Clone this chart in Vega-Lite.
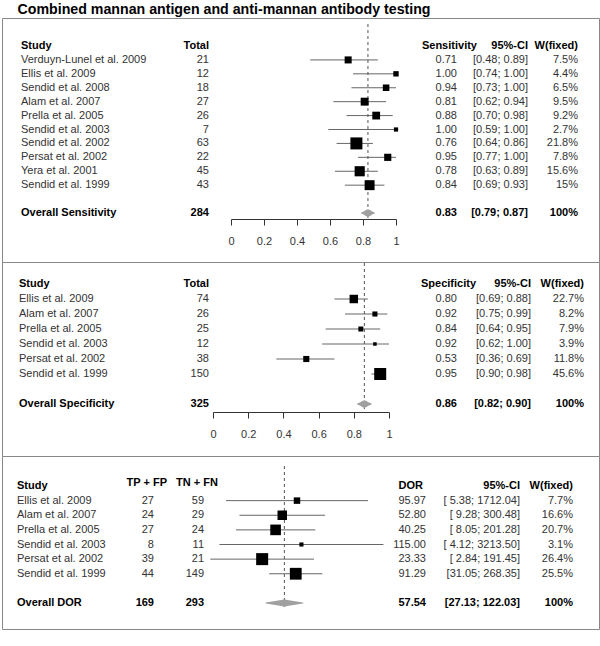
{
  "$schema": "https://vega.github.io/schema/vega-lite/v6.json",
  "padding": {"left": 1, "top": 3, "right": 0, "bottom": 0},
  "title": {"text": "Combined mannan antigen and anti-mannan antibody testing", "anchor": "start", "frame": "bounds", "dx": 16, "font": "Liberation Sans", "fontSize": 14.2, "fontWeight": "bold", "color": "#000", "offset": 0},
  "spacing": 0,
  "bounds": "flush",
  "resolve": {"scale": {"size": "independent"}},
  "datasets": {
    "sens": [
      {"study": "Verduyn-Lunel et al. 2009", "total": 21, "est": 0.71, "lo": 0.48, "hi": 0.89, "ci": "[0.48; 0.89]", "w": 0.075},
      {"study": "Ellis et al. 2009", "total": 12, "est": 1.00, "lo": 0.74, "hi": 1.00, "ci": "[0.74; 1.00]", "w": 0.044},
      {"study": "Sendid et al. 2008", "total": 18, "est": 0.94, "lo": 0.73, "hi": 1.00, "ci": "[0.73; 1.00]", "w": 0.065},
      {"study": "Alam et al. 2007", "total": 27, "est": 0.81, "lo": 0.62, "hi": 0.94, "ci": "[0.62; 0.94]", "w": 0.095},
      {"study": "Prella et al. 2005", "total": 26, "est": 0.88, "lo": 0.70, "hi": 0.98, "ci": "[0.70; 0.98]", "w": 0.092},
      {"study": "Sendid et al. 2003", "total": 7, "est": 1.00, "lo": 0.59, "hi": 1.00, "ci": "[0.59; 1.00]", "w": 0.027},
      {"study": "Sendid et al. 2002", "total": 63, "est": 0.76, "lo": 0.64, "hi": 0.86, "ci": "[0.64; 0.86]", "w": 0.218},
      {"study": "Persat et al. 2002", "total": 22, "est": 0.95, "lo": 0.77, "hi": 1.00, "ci": "[0.77; 1.00]", "w": 0.078},
      {"study": "Yera et al. 2001", "total": 45, "est": 0.78, "lo": 0.63, "hi": 0.89, "ci": "[0.63; 0.89]", "w": 0.156},
      {"study": "Sendid et al. 1999", "total": 43, "est": 0.84, "lo": 0.69, "hi": 0.93, "ci": "[0.69; 0.93]", "w": 0.15}
    ],
    "sensAll": [
      {"study": "Overall Sensitivity", "total": 284, "est": 0.83, "lo": 0.79, "hi": 0.87, "ci": "[0.79; 0.87]", "w": 1.0}
    ],
    "spec": [
      {"study": "Ellis et al. 2009", "total": 74, "est": 0.80, "lo": 0.69, "hi": 0.88, "ci": "[0.69; 0.88]", "w": 0.227},
      {"study": "Alam et al. 2007", "total": 26, "est": 0.92, "lo": 0.75, "hi": 0.99, "ci": "[0.75; 0.99]", "w": 0.082},
      {"study": "Prella et al. 2005", "total": 25, "est": 0.84, "lo": 0.64, "hi": 0.95, "ci": "[0.64; 0.95]", "w": 0.079},
      {"study": "Sendid et al. 2003", "total": 12, "est": 0.92, "lo": 0.62, "hi": 1.00, "ci": "[0.62; 1.00]", "w": 0.039},
      {"study": "Persat et al. 2002", "total": 38, "est": 0.53, "lo": 0.36, "hi": 0.69, "ci": "[0.36; 0.69]", "w": 0.118},
      {"study": "Sendid et al. 1999", "total": 150, "est": 0.95, "lo": 0.90, "hi": 0.98, "ci": "[0.90; 0.98]", "w": 0.456}
    ],
    "specAll": [
      {"study": "Overall Specificity", "total": 325, "est": 0.86, "lo": 0.82, "hi": 0.90, "ci": "[0.82; 0.90]", "w": 1.0}
    ],
    "dor": [
      {"study": "Ellis et al. 2009", "tpfp": 27, "tnfn": 59, "est": 95.97, "lo": 5.38, "hi": 1712.04, "ci": "[ 5.38; 1712.04]", "w": 0.077},
      {"study": "Alam et al. 2007", "tpfp": 24, "tnfn": 29, "est": 52.80, "lo": 9.28, "hi": 300.48, "ci": "[ 9.28;  300.48]", "w": 0.166},
      {"study": "Prella et al. 2005", "tpfp": 27, "tnfn": 24, "est": 40.25, "lo": 8.05, "hi": 201.28, "ci": "[ 8.05;  201.28]", "w": 0.207},
      {"study": "Sendid et al. 2003", "tpfp": 8, "tnfn": 11, "est": 115.00, "lo": 4.12, "hi": 3213.50, "ci": "[ 4.12; 3213.50]", "w": 0.031},
      {"study": "Persat et al. 2002", "tpfp": 39, "tnfn": 21, "est": 23.33, "lo": 2.84, "hi": 191.45, "ci": "[ 2.84;  191.45]", "w": 0.264},
      {"study": "Sendid et al. 1999", "tpfp": 44, "tnfn": 149, "est": 91.29, "lo": 31.05, "hi": 268.35, "ci": "[31.05;  268.35]", "w": 0.255}
    ],
    "dorAll": [
      {"study": "Overall DOR", "tpfp": 169, "tnfn": 293, "est": 57.54, "lo": 27.13, "hi": 122.03, "ci": "[27.13;  122.03]", "w": 1.0}
    ]
  },
  "vconcat": [
    {
      "width": 597, "height": 244,
      "resolve": {"scale": {"x": "independent", "size": "independent"}},
      "layer": [
        {
          "resolve": {"scale": {"size": "independent"}},
          "layer": [
            {"data": {"name": "sens"}, "mark": {"type": "rule", "color": "#666"},
             "encoding": {
               "x": {"field": "lo", "type": "quantitative", "scale": {"domain": [0, 1], "range": [229, 394], "nice": false, "zero": false},
                     "axis": {"orient": "bottom", "values": [0, 0.2, 0.4, 0.6, 0.8, 1], "format": "~g", "title": null, "grid": false, "offset": -43, "zindex": 1, "tickSize": 6, "labelPadding": 10, "labelFlush": false, "labelOverlap": false, "domainColor": "#333", "tickColor": "#333", "labelColor": "#333", "labelFont": "Liberation Sans", "labelFontSize": 11}},
               "x2": {"field": "hi"},
               "y": {"field": "study", "type": "nominal", "scale": {"type": "point", "domain": ["Study", "Verduyn-Lunel et al. 2009", "Ellis et al. 2009", "Sendid et al. 2008", "Alam et al. 2007", "Prella et al. 2005", "Sendid et al. 2003", "Sendid et al. 2002", "Persat et al. 2002", "Yera et al. 2001", "Sendid et al. 1999", "gap", "Overall Sensitivity"], "range": [28, 195], "padding": 0}, "axis": null}
             }},
            {"data": {"name": "sensAll"}, "mark": {"type": "rule", "color": "#555", "strokeDash": [3, 3], "yOffset": -22, "y2Offset": 5},
             "encoding": {"x": {"field": "est", "type": "quantitative"}, "y": {"datum": "Study", "type": "nominal", "axis": null}, "y2": {"datum": "Overall Sensitivity"}}},
            {"data": {"name": "sens"}, "mark": {"type": "square", "filled": true, "color": "#000", "opacity": 1},
             "encoding": {"x": {"field": "est", "type": "quantitative"}, "y": {"field": "study", "type": "nominal", "axis": null},
               "size": {"field": "w", "type": "quantitative", "scale": {"range": [0, 144], "zero": true, "nice": false}, "legend": null}}},
            {"data": {"name": "sensAll"}, "transform": [{"fold": ["lo", "est"], "as": ["k", "v"]}], "mark": {"type": "trail", "color": "#a0a0a0", "fill": "#a0a0a0"},
             "encoding": {"x": {"field": "v", "type": "quantitative"}, "y": {"field": "study", "type": "nominal", "axis": null},
               "size": {"field": "k", "type": "ordinal", "scale": {"type": "point", "domain": ["lo", "est"], "range": [0, 7], "padding": 0}, "legend": null}}},
            {"data": {"name": "sensAll"}, "transform": [{"fold": ["est", "hi"], "as": ["k", "v"]}], "mark": {"type": "trail", "color": "#a0a0a0", "fill": "#a0a0a0"},
             "encoding": {"x": {"field": "v", "type": "quantitative"}, "y": {"field": "study", "type": "nominal", "axis": null},
               "size": {"field": "k", "type": "ordinal", "scale": {"type": "point", "domain": ["hi", "est"], "range": [0, 7], "padding": 0}, "legend": null}}}
          ]
        },
        {
          "layer": [
            {"data": {"name": "sens"}, "mark": {"type": "text", "align": "left"},
             "encoding": {"x": {"datum": 3.18, "type": "quantitative", "scale": {"domain": [0, 100], "nice": false, "zero": false}, "axis": null}, "y": {"field": "study", "type": "nominal", "axis": null}, "text": {"field": "study"}}},
            {"data": {"name": "sens"}, "mark": {"type": "text", "align": "right"},
             "encoding": {"x": {"datum": 34.67, "type": "quantitative", "axis": null}, "y": {"field": "study", "type": "nominal", "axis": null}, "text": {"field": "total", "type": "quantitative", "format": "d"}}},
            {"data": {"name": "sens"}, "mark": {"type": "text", "align": "right"},
             "encoding": {"x": {"datum": 76.21, "type": "quantitative", "axis": null}, "y": {"field": "study", "type": "nominal", "axis": null}, "text": {"field": "est", "type": "quantitative", "format": ".2f"}}},
            {"data": {"name": "sens"}, "mark": {"type": "text", "align": "right"},
             "encoding": {"x": {"datum": 88.11, "type": "quantitative", "axis": null}, "y": {"field": "study", "type": "nominal", "axis": null}, "text": {"field": "ci"}}},
            {"data": {"name": "sens"}, "mark": {"type": "text", "align": "right"},
             "encoding": {"x": {"datum": 96.48, "type": "quantitative", "axis": null}, "y": {"field": "study", "type": "nominal", "axis": null}, "text": {"field": "w", "type": "quantitative", "format": ".1~%"}}},
            {"data": {"name": "sensAll"}, "mark": {"type": "text", "align": "left", "fontWeight": "bold", "color": "#000"},
             "encoding": {"x": {"datum": 3.18, "type": "quantitative", "axis": null}, "y": {"field": "study", "type": "nominal", "axis": null}, "text": {"field": "study"}}},
            {"data": {"name": "sensAll"}, "mark": {"type": "text", "align": "right", "fontWeight": "bold", "color": "#000"},
             "encoding": {"x": {"datum": 34.67, "type": "quantitative", "axis": null}, "y": {"field": "study", "type": "nominal", "axis": null}, "text": {"field": "total", "type": "quantitative", "format": "d"}}},
            {"data": {"name": "sensAll"}, "mark": {"type": "text", "align": "right", "fontWeight": "bold", "color": "#000"},
             "encoding": {"x": {"datum": 76.21, "type": "quantitative", "axis": null}, "y": {"field": "study", "type": "nominal", "axis": null}, "text": {"field": "est", "type": "quantitative", "format": ".2f"}}},
            {"data": {"name": "sensAll"}, "mark": {"type": "text", "align": "right", "fontWeight": "bold", "color": "#000"},
             "encoding": {"x": {"datum": 88.11, "type": "quantitative", "axis": null}, "y": {"field": "study", "type": "nominal", "axis": null}, "text": {"field": "ci"}}},
            {"data": {"name": "sensAll"}, "mark": {"type": "text", "align": "right", "fontWeight": "bold", "color": "#000"},
             "encoding": {"x": {"datum": 96.48, "type": "quantitative", "axis": null}, "y": {"field": "study", "type": "nominal", "axis": null}, "text": {"field": "w", "type": "quantitative", "format": ".1~%"}}},
            {"data": {"values": [{}]}, "mark": {"type": "text", "align": "left", "fontWeight": "bold", "color": "#000", "text": "Study"},
             "encoding": {"x": {"datum": 3.18, "type": "quantitative", "axis": null}, "y": {"datum": "Study", "type": "nominal", "axis": null}}},
            {"data": {"values": [{}]}, "mark": {"type": "text", "align": "right", "fontWeight": "bold", "color": "#000", "text": "Total"},
             "encoding": {"x": {"datum": 34.67, "type": "quantitative", "axis": null}, "y": {"datum": "Study", "type": "nominal", "axis": null}}},
            {"data": {"values": [{}]}, "mark": {"type": "text", "align": "right", "fontWeight": "bold", "color": "#000", "text": "Sensitivity"},
             "encoding": {"x": {"datum": 79.56, "type": "quantitative", "axis": null}, "y": {"datum": "Study", "type": "nominal", "axis": null}}},
            {"data": {"values": [{}]}, "mark": {"type": "text", "align": "right", "fontWeight": "bold", "color": "#000", "text": "95%-CI"},
             "encoding": {"x": {"datum": 88.11, "type": "quantitative", "axis": null}, "y": {"datum": "Study", "type": "nominal", "axis": null}}},
            {"data": {"values": [{}]}, "mark": {"type": "text", "align": "right", "fontWeight": "bold", "color": "#000", "text": "W(fixed)"},
             "encoding": {"x": {"datum": 96.48, "type": "quantitative", "axis": null}, "y": {"datum": "Study", "type": "nominal", "axis": null}}}
          ]
        }
      ]
    },
    {
      "width": 597, "height": 194,
      "resolve": {"scale": {"x": "independent", "size": "independent"}},
      "layer": [
        {
          "resolve": {"scale": {"size": "independent"}},
          "layer": [
            {"data": {"name": "spec"}, "mark": {"type": "rule", "color": "#666"},
             "encoding": {
               "x": {"field": "lo", "type": "quantitative", "scale": {"domain": [0, 1], "range": [211, 387], "nice": false, "zero": false},
                     "axis": {"orient": "bottom", "values": [0, 0.2, 0.4, 0.6, 0.8, 1], "format": "~g", "title": null, "grid": false, "offset": -44, "zindex": 1, "tickSize": 6, "labelPadding": 10, "labelFlush": false, "labelOverlap": false, "domainColor": "#333", "tickColor": "#333", "labelColor": "#333", "labelFont": "Liberation Sans", "labelFontSize": 11}},
               "x2": {"field": "hi"},
               "y": {"field": "study", "type": "nominal", "scale": {"type": "point", "domain": ["Study", "Ellis et al. 2009", "Alam et al. 2007", "Prella et al. 2005", "Sendid et al. 2003", "Persat et al. 2002", "Sendid et al. 1999", "gap", "Overall Specificity"], "range": [22, 142], "padding": 0}, "axis": null}
             }},
            {"data": {"name": "specAll"}, "mark": {"type": "rule", "color": "#555", "strokeDash": [3, 3], "yOffset": -21, "y2Offset": 5},
             "encoding": {"x": {"field": "est", "type": "quantitative"}, "y": {"datum": "Study", "type": "nominal", "axis": null}, "y2": {"datum": "Overall Specificity"}}},
            {"data": {"name": "spec"}, "mark": {"type": "square", "filled": true, "color": "#000", "opacity": 1},
             "encoding": {"x": {"field": "est", "type": "quantitative"}, "y": {"field": "study", "type": "nominal", "axis": null},
               "size": {"field": "w", "type": "quantitative", "scale": {"range": [0, 144], "zero": true, "nice": false}, "legend": null}}},
            {"data": {"name": "specAll"}, "transform": [{"fold": ["lo", "est"], "as": ["k", "v"]}], "mark": {"type": "trail", "color": "#a0a0a0", "fill": "#a0a0a0"},
             "encoding": {"x": {"field": "v", "type": "quantitative"}, "y": {"field": "study", "type": "nominal", "axis": null},
               "size": {"field": "k", "type": "ordinal", "scale": {"type": "point", "domain": ["lo", "est"], "range": [0, 7], "padding": 0}, "legend": null}}},
            {"data": {"name": "specAll"}, "transform": [{"fold": ["est", "hi"], "as": ["k", "v"]}], "mark": {"type": "trail", "color": "#a0a0a0", "fill": "#a0a0a0"},
             "encoding": {"x": {"field": "v", "type": "quantitative"}, "y": {"field": "study", "type": "nominal", "axis": null},
               "size": {"field": "k", "type": "ordinal", "scale": {"type": "point", "domain": ["hi", "est"], "range": [0, 7], "padding": 0}, "legend": null}}}
          ]
        },
        {
          "layer": [
            {"data": {"name": "spec"}, "mark": {"type": "text", "align": "left"},
             "encoding": {"x": {"datum": 2.85, "type": "quantitative", "scale": {"domain": [0, 100], "nice": false, "zero": false}, "axis": null}, "y": {"field": "study", "type": "nominal", "axis": null}, "text": {"field": "study"}}},
            {"data": {"name": "spec"}, "mark": {"type": "text", "align": "right"},
             "encoding": {"x": {"datum": 34.67, "type": "quantitative", "axis": null}, "y": {"field": "study", "type": "nominal", "axis": null}, "text": {"field": "total", "type": "quantitative", "format": "d"}}},
            {"data": {"name": "spec"}, "mark": {"type": "text", "align": "right"},
             "encoding": {"x": {"datum": 76.21, "type": "quantitative", "axis": null}, "y": {"field": "study", "type": "nominal", "axis": null}, "text": {"field": "est", "type": "quantitative", "format": ".2f"}}},
            {"data": {"name": "spec"}, "mark": {"type": "text", "align": "right"},
             "encoding": {"x": {"datum": 88.61, "type": "quantitative", "axis": null}, "y": {"field": "study", "type": "nominal", "axis": null}, "text": {"field": "ci"}}},
            {"data": {"name": "spec"}, "mark": {"type": "text", "align": "right"},
             "encoding": {"x": {"datum": 97.49, "type": "quantitative", "axis": null}, "y": {"field": "study", "type": "nominal", "axis": null}, "text": {"field": "w", "type": "quantitative", "format": ".1~%"}}},
            {"data": {"name": "specAll"}, "mark": {"type": "text", "align": "left", "fontWeight": "bold", "color": "#000"},
             "encoding": {"x": {"datum": 2.85, "type": "quantitative", "axis": null}, "y": {"field": "study", "type": "nominal", "axis": null}, "text": {"field": "study"}}},
            {"data": {"name": "specAll"}, "mark": {"type": "text", "align": "right", "fontWeight": "bold", "color": "#000"},
             "encoding": {"x": {"datum": 34.67, "type": "quantitative", "axis": null}, "y": {"field": "study", "type": "nominal", "axis": null}, "text": {"field": "total", "type": "quantitative", "format": "d"}}},
            {"data": {"name": "specAll"}, "mark": {"type": "text", "align": "right", "fontWeight": "bold", "color": "#000"},
             "encoding": {"x": {"datum": 76.21, "type": "quantitative", "axis": null}, "y": {"field": "study", "type": "nominal", "axis": null}, "text": {"field": "est", "type": "quantitative", "format": ".2f"}}},
            {"data": {"name": "specAll"}, "mark": {"type": "text", "align": "right", "fontWeight": "bold", "color": "#000"},
             "encoding": {"x": {"datum": 88.61, "type": "quantitative", "axis": null}, "y": {"field": "study", "type": "nominal", "axis": null}, "text": {"field": "ci"}}},
            {"data": {"name": "specAll"}, "mark": {"type": "text", "align": "right", "fontWeight": "bold", "color": "#000"},
             "encoding": {"x": {"datum": 97.49, "type": "quantitative", "axis": null}, "y": {"field": "study", "type": "nominal", "axis": null}, "text": {"field": "w", "type": "quantitative", "format": ".1~%"}}},
            {"data": {"values": [{}]}, "mark": {"type": "text", "align": "left", "fontWeight": "bold", "color": "#000", "text": "Study"},
             "encoding": {"x": {"datum": 2.85, "type": "quantitative", "axis": null}, "y": {"datum": "Study", "type": "nominal", "axis": null}}},
            {"data": {"values": [{}]}, "mark": {"type": "text", "align": "right", "fontWeight": "bold", "color": "#000", "text": "Total"},
             "encoding": {"x": {"datum": 34.67, "type": "quantitative", "axis": null}, "y": {"datum": "Study", "type": "nominal", "axis": null}}},
            {"data": {"values": [{}]}, "mark": {"type": "text", "align": "right", "fontWeight": "bold", "color": "#000", "text": "Specificity"},
             "encoding": {"x": {"datum": 79.4, "type": "quantitative", "axis": null}, "y": {"datum": "Study", "type": "nominal", "axis": null}}},
            {"data": {"values": [{}]}, "mark": {"type": "text", "align": "right", "fontWeight": "bold", "color": "#000", "text": "95%-CI"},
             "encoding": {"x": {"datum": 88.61, "type": "quantitative", "axis": null}, "y": {"datum": "Study", "type": "nominal", "axis": null}}},
            {"data": {"values": [{}]}, "mark": {"type": "text", "align": "right", "fontWeight": "bold", "color": "#000", "text": "W(fixed)"},
             "encoding": {"x": {"datum": 97.49, "type": "quantitative", "axis": null}, "y": {"datum": "Study", "type": "nominal", "axis": null}}}
          ]
        }
      ]
    },
    {
      "width": 597, "height": 173,
      "resolve": {"scale": {"x": "independent", "size": "independent"}},
      "layer": [
        {
          "resolve": {"scale": {"size": "independent"}},
          "layer": [
            {"data": {"name": "dor"}, "mark": {"type": "rule", "color": "#666"},
             "encoding": {
               "x": {"field": "lo", "type": "quantitative", "scale": {"type": "log", "domain": [1, 10000], "range": [182.6, 409.4], "nice": false}, "axis": null},
               "x2": {"field": "hi"},
               "y": {"field": "study", "type": "nominal", "scale": {"type": "point", "domain": ["Study", "Ellis et al. 2009", "Alam et al. 2007", "Prella et al. 2005", "Sendid et al. 2003", "Persat et al. 2002", "Sendid et al. 1999", "gap", "Overall DOR"], "range": [30, 147], "padding": 0}, "axis": null}
             }},
            {"data": {"name": "dorAll"}, "mark": {"type": "rule", "color": "#555", "strokeDash": [3, 3], "yOffset": -20, "y2Offset": 5},
             "encoding": {"x": {"field": "est", "type": "quantitative", "axis": null}, "y": {"datum": "Study", "type": "nominal", "axis": null}, "y2": {"datum": "Overall DOR"}}},
            {"data": {"name": "dor"}, "mark": {"type": "square", "filled": true, "color": "#000", "opacity": 1},
             "encoding": {"x": {"field": "est", "type": "quantitative", "axis": null}, "y": {"field": "study", "type": "nominal", "axis": null},
               "size": {"field": "w", "type": "quantitative", "scale": {"range": [0, 144], "zero": true, "nice": false}, "legend": null}}},
            {"data": {"name": "dorAll"}, "transform": [{"fold": ["lo", "est"], "as": ["k", "v"]}], "mark": {"type": "trail", "color": "#a0a0a0", "fill": "#a0a0a0"},
             "encoding": {"x": {"field": "v", "type": "quantitative", "axis": null}, "y": {"field": "study", "type": "nominal", "axis": null},
               "size": {"field": "k", "type": "ordinal", "scale": {"type": "point", "domain": ["lo", "est"], "range": [0, 7], "padding": 0}, "legend": null}}},
            {"data": {"name": "dorAll"}, "transform": [{"fold": ["est", "hi"], "as": ["k", "v"]}], "mark": {"type": "trail", "color": "#a0a0a0", "fill": "#a0a0a0"},
             "encoding": {"x": {"field": "v", "type": "quantitative", "axis": null}, "y": {"field": "study", "type": "nominal", "axis": null},
               "size": {"field": "k", "type": "ordinal", "scale": {"type": "point", "domain": ["hi", "est"], "range": [0, 7], "padding": 0}, "legend": null}}}
          ]
        },
        {
          "layer": [
            {"data": {"name": "dor"}, "mark": {"type": "text", "align": "left"},
             "encoding": {"x": {"datum": 2.51, "type": "quantitative", "scale": {"domain": [0, 100], "nice": false, "zero": false}, "axis": null}, "y": {"field": "study", "type": "nominal", "axis": null}, "text": {"field": "study"}}},
            {"data": {"name": "dor"}, "mark": {"type": "text", "align": "right"},
             "encoding": {"x": {"datum": 25.46, "type": "quantitative", "axis": null}, "y": {"field": "study", "type": "nominal", "axis": null}, "text": {"field": "tpfp", "type": "quantitative", "format": "d"}}},
            {"data": {"name": "dor"}, "mark": {"type": "text", "align": "right"},
             "encoding": {"x": {"datum": 33.84, "type": "quantitative", "axis": null}, "y": {"field": "study", "type": "nominal", "axis": null}, "text": {"field": "tnfn", "type": "quantitative", "format": "d"}}},
            {"data": {"name": "dor"}, "mark": {"type": "text", "align": "right"},
             "encoding": {"x": {"datum": 71.02, "type": "quantitative", "axis": null}, "y": {"field": "study", "type": "nominal", "axis": null}, "text": {"field": "est", "type": "quantitative", "format": ".2f"}}},
            {"data": {"name": "dor"}, "mark": {"type": "text", "align": "right"},
             "encoding": {"x": {"datum": 86.77, "type": "quantitative", "axis": null}, "y": {"field": "study", "type": "nominal", "axis": null}, "text": {"field": "ci"}}},
            {"data": {"name": "dor"}, "mark": {"type": "text", "align": "right"},
             "encoding": {"x": {"datum": 95.64, "type": "quantitative", "axis": null}, "y": {"field": "study", "type": "nominal", "axis": null}, "text": {"field": "w", "type": "quantitative", "format": ".1~%"}}},
            {"data": {"name": "dorAll"}, "mark": {"type": "text", "align": "left", "fontWeight": "bold", "color": "#000"},
             "encoding": {"x": {"datum": 2.51, "type": "quantitative", "axis": null}, "y": {"field": "study", "type": "nominal", "axis": null}, "text": {"field": "study"}}},
            {"data": {"name": "dorAll"}, "mark": {"type": "text", "align": "right", "fontWeight": "bold", "color": "#000"},
             "encoding": {"x": {"datum": 25.46, "type": "quantitative", "axis": null}, "y": {"field": "study", "type": "nominal", "axis": null}, "text": {"field": "tpfp", "type": "quantitative", "format": "d"}}},
            {"data": {"name": "dorAll"}, "mark": {"type": "text", "align": "right", "fontWeight": "bold", "color": "#000"},
             "encoding": {"x": {"datum": 33.84, "type": "quantitative", "axis": null}, "y": {"field": "study", "type": "nominal", "axis": null}, "text": {"field": "tnfn", "type": "quantitative", "format": "d"}}},
            {"data": {"name": "dorAll"}, "mark": {"type": "text", "align": "right", "fontWeight": "bold", "color": "#000"},
             "encoding": {"x": {"datum": 71.02, "type": "quantitative", "axis": null}, "y": {"field": "study", "type": "nominal", "axis": null}, "text": {"field": "est", "type": "quantitative", "format": ".2f"}}},
            {"data": {"name": "dorAll"}, "mark": {"type": "text", "align": "right", "fontWeight": "bold", "color": "#000"},
             "encoding": {"x": {"datum": 86.77, "type": "quantitative", "axis": null}, "y": {"field": "study", "type": "nominal", "axis": null}, "text": {"field": "ci"}}},
            {"data": {"name": "dorAll"}, "mark": {"type": "text", "align": "right", "fontWeight": "bold", "color": "#000"},
             "encoding": {"x": {"datum": 95.64, "type": "quantitative", "axis": null}, "y": {"field": "study", "type": "nominal", "axis": null}, "text": {"field": "w", "type": "quantitative", "format": ".1~%"}}},
            {"data": {"values": [{}]}, "mark": {"type": "text", "align": "left", "fontWeight": "bold", "color": "#000", "text": "Study"},
             "encoding": {"x": {"datum": 2.51, "type": "quantitative", "axis": null}, "y": {"datum": "Study", "type": "nominal", "axis": null}}},
            {"data": {"values": [{}]}, "mark": {"type": "text", "align": "right", "fontWeight": "bold", "color": "#000", "text": "TP + FP", "dy": -3},
             "encoding": {"x": {"datum": 27.64, "type": "quantitative", "axis": null}, "y": {"datum": "Study", "type": "nominal", "axis": null}}},
            {"data": {"values": [{}]}, "mark": {"type": "text", "align": "right", "fontWeight": "bold", "color": "#000", "text": "TN + FN", "dy": -3},
             "encoding": {"x": {"datum": 36.18, "type": "quantitative", "axis": null}, "y": {"datum": "Study", "type": "nominal", "axis": null}}},
            {"data": {"values": [{}]}, "mark": {"type": "text", "align": "right", "fontWeight": "bold", "color": "#000", "text": "DOR"},
             "encoding": {"x": {"datum": 70.52, "type": "quantitative", "axis": null}, "y": {"datum": "Study", "type": "nominal", "axis": null}}},
            {"data": {"values": [{}]}, "mark": {"type": "text", "align": "right", "fontWeight": "bold", "color": "#000", "text": "95%-CI"},
             "encoding": {"x": {"datum": 86.77, "type": "quantitative", "axis": null}, "y": {"datum": "Study", "type": "nominal", "axis": null}}},
            {"data": {"values": [{}]}, "mark": {"type": "text", "align": "right", "fontWeight": "bold", "color": "#000", "text": "W(fixed)"},
             "encoding": {"x": {"datum": 95.64, "type": "quantitative", "axis": null}, "y": {"datum": "Study", "type": "nominal", "axis": null}}}
          ]
        }
      ]
    }
  ],
  "config": {
    "font": "Liberation Sans",
    "view": {"stroke": "#888", "strokeWidth": 1},
    "text": {"fontSize": 11, "color": "#333", "baseline": "middle"}
  }
}
